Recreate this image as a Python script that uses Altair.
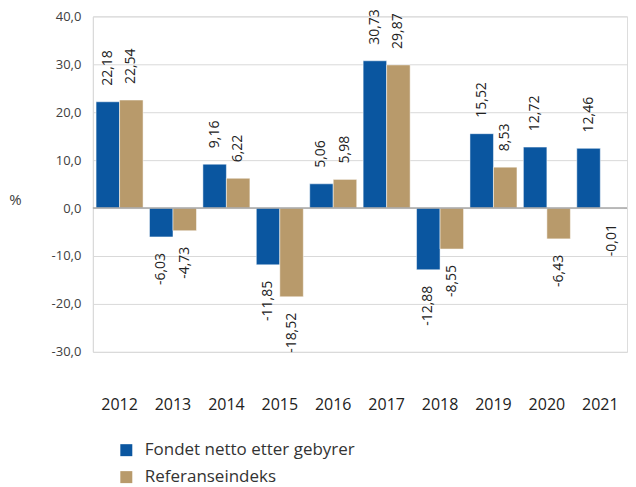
import altair as alt
import pandas as pd

years = ["2012", "2013", "2014", "2015", "2016", "2017", "2018", "2019", "2020", "2021"]
fund = [22.18, -6.03, 9.16, -11.85, 5.06, 30.73, -12.88, 15.52, 12.72, 12.46]
ref = [22.54, -4.73, 6.22, -18.52, 5.98, 29.87, -8.55, 8.53, -6.43, -0.01]
series = ["Fondet netto etter gebyrer", "Referanseindeks"]
colors = ["#0A56A0", "#B89A6B"]
y_ticks = [-30, -20, -10, 0, 10, 20, 30, 40]

rows = []
for i, yr in enumerate(years):
    rows.append({"year": yr, "series": series[0], "value": fund[i], "order": 0})
    rows.append({"year": yr, "series": series[1], "value": ref[i], "order": 1})
df = pd.DataFrame(rows)

FONT = "Open Sans"
LBL_FONT = "Open Sans"

x_enc = alt.X("year:N", sort=years,
              scale=alt.Scale(paddingInner=0.12, paddingOuter=0.06),
              axis=alt.Axis(title=None, labelAngle=0, ticks=False, domain=False,
                            labelPadding=45, labelFontSize=16, labelColor="#222222",
                            labelFont=FONT, grid=False))
xoff = alt.XOffset("series:N", sort=series, scale=alt.Scale(paddingInner=0, paddingOuter=0))
y_scale = alt.Scale(domain=[-30, 40], nice=False, zero=False)

base = alt.Chart(df)

bars = base.mark_bar(stroke="white", strokeWidth=0.5).encode(
    x=x_enc,
    xOffset=xoff,
    y=alt.Y("value:Q", scale=y_scale,
            axis=alt.Axis(values=y_ticks, title="%", titleAngle=0, titleX=-78, titleY=183,
                          titleAlign="center", titleBaseline="middle",
                          titleFont=FONT, titleFontSize=15, titleFontWeight="normal",
                          titleColor="#404040",
                          labelExpr="replace(replace(format(datum.value, '.1f'), '.', ','), '\u2212', '-')",
                          labelFont=FONT, labelFontSize=13, labelColor="#404040",
                          labelPadding=12, ticks=False, domain=True, domainColor="#d9d9d9",
                          gridColor="#d9d9d9", grid=True)),
    color=alt.Color("series:N", sort=series,
                    scale=alt.Scale(domain=series, range=colors),
                    legend=alt.Legend(title=None, orient="none", legendX=25, legendY=426,
                                      direction="vertical", symbolType="square",
                                      symbolSize=144, symbolStrokeWidth=0,
                                      labelFont=FONT, labelFontSize=17, labelColor="#333333",
                                      labelLimit=0, rowPadding=9, labelOffset=10)),
)

zero = alt.Chart(pd.DataFrame({"z": [0]})).mark_rule(color="#A6A6A6", strokeWidth=1.5).encode(
    y=alt.Y("z:Q", scale=y_scale)
)

lbl_expr = "replace(replace(format(datum.value, '.2f'), '.', ','), '\u2212', '-')"

pos_lbl = base.transform_filter("datum.value >= 0").transform_calculate(lbl=lbl_expr).mark_text(
    angle=270, align="left", baseline="middle", font=LBL_FONT, fontSize=14, color="#222222"
).encode(x=x_enc, xOffset=xoff, y=alt.Y("value:Q", scale=y_scale), yOffset=alt.value(-16),
         text="lbl:N")

neg_lbl = base.transform_filter("datum.value < 0").transform_calculate(lbl=lbl_expr).mark_text(
    angle=270, align="right", baseline="middle", font=LBL_FONT, fontSize=14, color="#222222"
).encode(x=x_enc, xOffset=xoff, y=alt.Y("value:Q", scale=y_scale), yOffset=alt.value(16),
         text="lbl:N")

chart = alt.layer(bars, zero, pos_lbl, neg_lbl).properties(
    width=535, height=336, padding=0
).configure_view(stroke=None).configure(font=FONT)

chart.save("out.html", embed_options={"renderer": "svg", "actions": False})
